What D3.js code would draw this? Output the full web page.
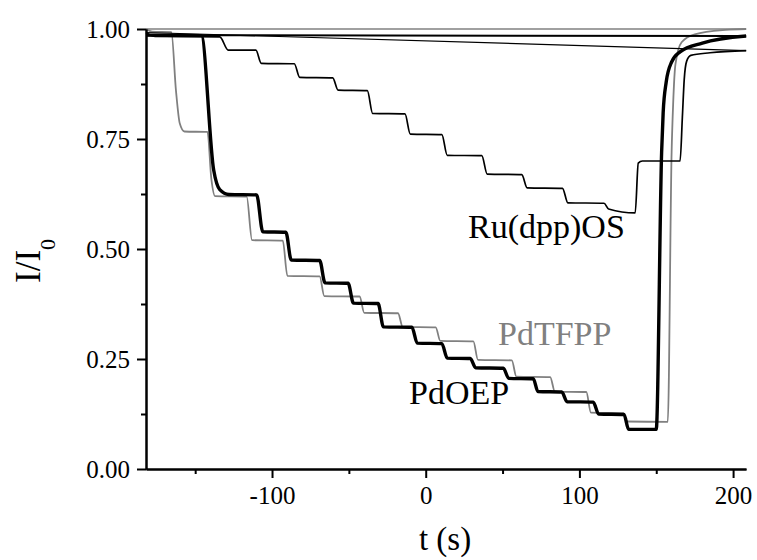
<!DOCTYPE html>
<html>
<head>
<meta charset="utf-8">
<script src="https://cdn.jsdelivr.net/npm/d3@7"></script>
<style>
  html, body { margin: 0; padding: 0; background: #fff; }
  svg { display: block; }
  text { font-family: "Liberation Serif", "Times New Roman", serif; }
</style>
</head>
<body>
<svg id="chart" width="757" height="560"></svg>
<script>
// Oxygen quenching traces: relative intensity I/I0 versus time t (s)
const tMajorTicks = [-100, 0, 100, 200];
const tMinorTicks = [-150, -50, 50, 150];
const iMajorTicks = [0, 0.25, 0.5, 0.75, 1.0];
const iMinorTicks = [0.125, 0.375, 0.625, 0.875];

// [t, I/I0] breakpoints of each trace
const ruDppOS = [
  [-182, 0.992], [-176, 0.983], [-134, 0.982], [-128.5, 0.952], [-110.5, 0.952], [-107, 0.922],
  [-85.5, 0.921], [-82, 0.890], [-60.5, 0.889], [-57, 0.861], [-38, 0.860], [-34.5, 0.808],
  [-13.5, 0.807], [-10, 0.761], [10.5, 0.760], [14, 0.713], [36.5, 0.712], [40, 0.670],
  [62.5, 0.669], [66, 0.639], [89, 0.638], [92.5, 0.605], [116, 0.604], [119, 0.591],
  [136.3, 0.582], [138.3, 0.695], [141, 0.700], [165.5, 0.700], [167, 0.800], [168.2, 0.885],
  [169.8, 0.927], [172.5, 0.940], [185, 0.946], [208.5, 0.951]
];

const pdTFPP = [
  [-182, 1.0], [-178, 0.994], [-165.5, 0.993], [-162.5, 0.86], [-160, 0.785], [-157, 0.767],
  [-142, 0.766], [-139.5, 0.66], [-137, 0.620], [-116.5, 0.619], [-113, 0.520], [-93, 0.519],
  [-90, 0.439], [-69, 0.438], [-66, 0.393], [-43, 0.392], [-40, 0.355], [-18, 0.354],
  [-15, 0.323], [6.5, 0.322], [9.5, 0.291], [31, 0.290], [34, 0.248], [56, 0.247],
  [59, 0.210], [81, 0.209], [84, 0.176], [104.5, 0.175], [107.5, 0.128], [128.5, 0.127],
  [131, 0.108], [157.5, 0.107], [160, 0.72], [161, 0.83], [162.5, 0.92], [166.5, 0.970],
  [175, 0.988], [195, 0.998], [208.5, 1.0]
];

const pdOEP = [
  [-182, 0.986], [-146, 0.985], [-138, 0.68], [-134, 0.635], [-128, 0.624], [-110, 0.623],
  [-106, 0.539], [-91, 0.538], [-87.5, 0.475], [-69, 0.474], [-65.5, 0.423], [-50.5, 0.422],
  [-47, 0.377], [-31, 0.376], [-27.5, 0.323], [-9, 0.322], [-5.5, 0.286], [10.5, 0.285],
  [14, 0.252], [29, 0.251], [32.5, 0.230], [50.5, 0.229], [54, 0.206], [70, 0.205],
  [73, 0.176], [88.5, 0.175], [92, 0.153], [109, 0.152], [112.5, 0.125], [129, 0.124],
  [132, 0.090], [150, 0.090], [153.5, 0.72], [154.5, 0.81], [156.5, 0.88], [160, 0.925],
  [165.5, 0.948], [180, 0.968], [208.5, 0.984]
];

const seriesNames = ["Ru(dpp)OS", "PdTFPP", "PdOEP"];

const svg = d3.select("#chart");
const x = d3.scaleLinear().domain([-182, 208.4]).range([146, 746]);
const y = d3.scaleLinear().domain([0, 1]).range([469, 29]);

const traces = [
  { data: pdTFPP, color: "#808080", width: 1.8, back: 1.4 },
  { data: pdOEP, color: "#000", width: 3.4, back: 2.0 },
  { data: ruDppOS, color: "#000", width: 1.7, back: 1.2 }
];

const stepLine = d3.line().x(d => x(d[0])).y(d => y(d[1])).curve(d3.curveMonotoneX);
const straight = d3.line().x(d => x(d[0])).y(d => y(d[1]));

const plot = svg.append("g");
traces.forEach(tr => {
  // closing segment from the last sample back to the first one
  plot.append("path")
    .attr("d", straight([tr.data[tr.data.length - 1], tr.data[0]]))
    .attr("fill", "none").attr("stroke", tr.color).attr("stroke-width", tr.back);
  plot.append("path")
    .attr("d", stepLine(tr.data))
    .attr("fill", "none").attr("stroke", tr.color)
    .attr("stroke-width", tr.width).attr("stroke-linejoin", "round");
});

// axes
function styleAxis(g) {
  g.selectAll(".domain").attr("stroke", "#000").attr("stroke-width", 2);
  g.selectAll(".tick line").attr("stroke", "#000").attr("stroke-width", 2);
  g.selectAll(".tick text").attr("fill", "#000")
    .style("font-family", "'Liberation Serif', 'Times New Roman', serif")
    .style("font-size", "25px");
}

svg.append("g").attr("transform", `translate(0,${y(0)})`)
  .call(d3.axisBottom(x).tickValues(tMinorTicks).tickSize(5).tickSizeOuter(0).tickFormat(""))
  .call(styleAxis);
svg.append("g").attr("transform", `translate(0,${y(0)})`)
  .call(d3.axisBottom(x).tickValues(tMajorTicks).tickSize(9).tickSizeOuter(0).tickPadding(8)
    .tickFormat(d3.format("d")))
  .call(styleAxis)
  .call(g => g.selectAll(".tick text").text(d => d < 0 ? "-" + Math.abs(d) : d));

svg.append("g").attr("transform", `translate(${x(-182)},0)`)
  .call(d3.axisLeft(y).tickValues(iMinorTicks).tickSize(5).tickSizeOuter(0).tickFormat(""))
  .call(styleAxis);
svg.append("g").attr("transform", `translate(${x(-182)},0)`)
  .call(d3.axisLeft(y).tickValues(iMajorTicks).tickSize(9).tickSizeOuter(0).tickPadding(7)
    .tickFormat(d3.format(".2f")))
  .call(styleAxis);

// axis titles
svg.append("text")
  .attr("x", 445).attr("y", 550)
  .attr("text-anchor", "middle")
  .style("font-size", "33px")
  .text("t (s)");

const yTitle = svg.append("text")
  .attr("transform", "translate(40,283) rotate(-90)")
  .style("font-size", "35px");
yTitle.append("tspan").text("I/I");
yTitle.append("tspan").attr("dy", 15).style("font-size", "22px").text("0");

// trace labels
const labelSpecs = [
  { name: seriesNames[0], px: 468, py: 238, color: "#000" },
  { name: seriesNames[1], px: 498, py: 345, color: "#808080" },
  { name: seriesNames[2], px: 409, py: 404, color: "#000" }
];
svg.selectAll("text.series-label")
  .data(labelSpecs).enter().append("text")
  .attr("class", "series-label")
  .attr("x", d => d.px).attr("y", d => d.py)
  .attr("fill", d => d.color)
  .style("font-size", "34px")
  .text(d => d.name);
</script>
</body>
</html>
